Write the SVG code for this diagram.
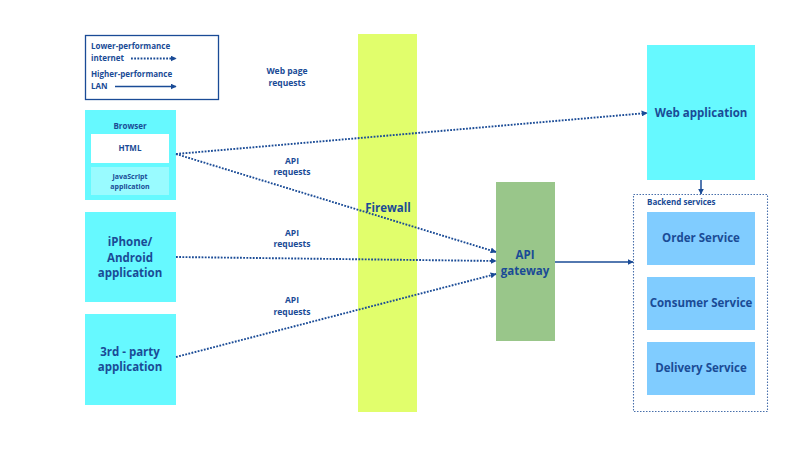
<svg xmlns="http://www.w3.org/2000/svg" width="800" height="450" viewBox="0 0 800 450">
<style>
text{font-family:"Open Sans","Noto Sans","DejaVu Sans",sans-serif;font-weight:bold;fill:#1a4b96;text-anchor:middle}
.s{font-size:8px}
.xs{font-size:7px}
.m{font-size:11.5px}
.lab{font-size:8.5px}
.cyan{fill:#66f9ff}
.svc{fill:#80ccff}
.dot{fill:none;stroke:#1a4b96;stroke-width:1.9;stroke-dasharray:1.8 1.4}
.sol{fill:none;stroke:#1a4b96;stroke-width:1.5}
</style>
<defs>
<marker id="ah" viewBox="0 0 10 10" refX="9" refY="5" markerWidth="6" markerHeight="6" orient="auto" markerUnits="userSpaceOnUse">
<path d="M0,0L10,5L0,10z" fill="#1a4b96"/>
</marker>
</defs>
<rect width="800" height="450" fill="#ffffff"/>
<g id="legend">
<rect x="85.5" y="35.5" width="133" height="64" fill="#fff" stroke="#1a4b96" stroke-width="1.3"/>
<text class="s" x="91" y="49" style="text-anchor:start">Lower-performance</text>
<text class="s" x="91" y="61" style="text-anchor:start">internet</text>
<line class="dot" x1="131" y1="58.5" x2="176" y2="58.5" marker-end="url(#ah)"/>
<text class="s" x="91" y="77" style="text-anchor:start">Higher-performance</text>
<text class="s" x="91" y="89" style="text-anchor:start">LAN</text>
<line class="sol" x1="115" y1="86.5" x2="176" y2="86.5" marker-end="url(#ah)"/>
</g>
<g id="firewall">
<rect x="358" y="34" width="59" height="378" fill="#e1fe6c"/>
<text class="m" x="388" y="212">Firewall</text>
</g>
<g id="browser">
<rect x="85" y="110" width="91" height="90" class="cyan"/>
<text class="s" x="130" y="129">Browser</text>
<rect x="91" y="134" width="78" height="29" fill="#ffffff"/>
<text class="s" x="130" y="151">HTML</text>
<rect x="91" y="167" width="78" height="28" fill="#99fbff"/>
<text class="xs" x="130" y="179">JavaScript</text>
<text class="xs" x="130" y="189">application</text>
</g>
<g id="mobile">
<rect x="85" y="212" width="91" height="90" class="cyan"/>
<text class="m" x="130" y="246">iPhone/</text>
<text class="m" x="130" y="262">Android</text>
<text class="m" x="130" y="277">application</text>
</g>
<g id="thirdparty">
<rect x="85" y="314" width="91" height="91" class="cyan"/>
<text class="m" x="130" y="356">3rd - party</text>
<text class="m" x="130" y="371">application</text>
</g>
<g id="gateway">
<rect x="496" y="182" width="59" height="159" fill="#99c68a"/>
<text class="m" x="525" y="259">API</text>
<text class="m" x="525" y="275">gateway</text>
</g>
<g id="webapp">
<rect x="647" y="45" width="108" height="135" class="cyan"/>
<text class="m" x="701" y="117">Web application</text>
</g>
<g id="backend">
<rect x="633.5" y="194.5" width="134" height="217" fill="none" stroke="#1a4b96" stroke-width="1.1" stroke-dasharray="1.5 1.5" opacity="0.8"/>
<text class="s" x="647" y="205" style="text-anchor:start">Backend services</text>
</g>
<g id="order">
<rect x="647" y="212" width="108" height="53" class="svc"/>
<text class="m" x="701" y="242">Order Service</text>
</g>
<g id="consumer">
<rect x="647" y="277" width="108" height="53" class="svc"/>
<text class="m" x="701" y="307">Consumer Service</text>
</g>
<g id="delivery">
<rect x="647" y="342" width="108" height="53" class="svc"/>
<text class="m" x="701" y="372">Delivery Service</text>
</g>
<g id="connectors">
<line class="dot" x1="176" y1="154" x2="647" y2="113" marker-end="url(#ah)"/>
<line class="dot" x1="176" y1="154" x2="496" y2="252" marker-end="url(#ah)"/>
<line class="dot" x1="176" y1="257" x2="496" y2="261" marker-end="url(#ah)"/>
<line class="dot" x1="176" y1="357" x2="496" y2="274" marker-end="url(#ah)"/>
<line class="sol" x1="555" y1="262" x2="633" y2="262" marker-end="url(#ah)"/>
<line class="sol" x1="701" y1="180" x2="701" y2="194" marker-end="url(#ah)"/>
</g>
<g id="labels">
<text class="lab" x="287" y="74">Web page</text>
<text class="lab" x="287" y="86">requests</text>
<text class="lab" x="292" y="164">API</text>
<text class="lab" x="292" y="175">requests</text>
<text class="lab" x="292" y="236">API</text>
<text class="lab" x="292" y="247">requests</text>
<text class="lab" x="292" y="303">API</text>
<text class="lab" x="292" y="315">requests</text>
</g>
</svg>
